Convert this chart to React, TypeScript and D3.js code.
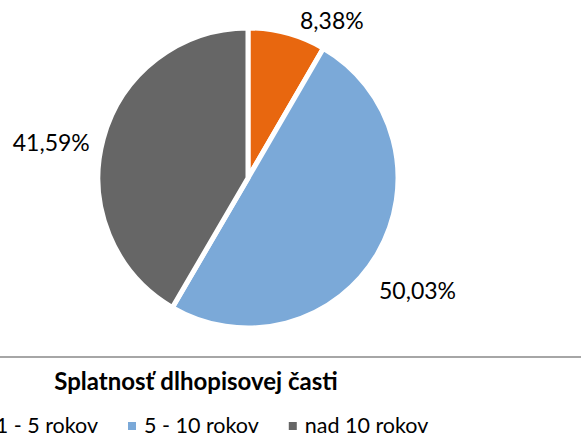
import * as d3 from "d3";
import React, { useEffect, useRef } from "react";

// Splatnosť dlhopisovej časti
const categories = ["1 - 5 rokov", "5 - 10 rokov", "nad 10 rokov"];
const values = [8.38, 50.03, 41.59];
const labels = ["8,38%", "50,03%", "41,59%"];
const colors = ["#E8670F", "#7BA9D8", "#666666"];
const title = "Splatnosť dlhopisovej časti";

// ručné posuny popiskov (Excel best-fit)
const labelNudge = [
  [37, 16],
  [14, 21],
  [-23, 11],
];

const App = () => {
  const svgRef = useRef<SVGSVGElement>(null);

  useEffect(() => {
    const width = 581;
    const height = 438;
    const cx = 248;
    const cy = 178;
    const r = 150;
    const font = "Lato, 'Open Sans', sans-serif";

    const svg = d3.select(svgRef.current).attr("width", width).attr("height", height);
    svg.selectAll("*").remove();

    const pie = d3
      .pie<number>()
      .sort(null)
      .value((d) => d);
    const arcs = pie(values);
    const arc = d3.arc<d3.PieArcDatum<number>>().innerRadius(0).outerRadius(r);

    const g = svg.append("g").attr("transform", `translate(${cx},${cy})`);

    g.selectAll("path")
      .data(arcs)
      .join("path")
      .attr("d", arc)
      .attr("fill", (d, i) => colors[i])
      .attr("stroke", "#fff")
      .attr("stroke-width", 5)
      .attr("stroke-linejoin", "miter");

    // popisky hodnôt
    const labelArc = d3.arc<d3.PieArcDatum<number>>().innerRadius(r + 30).outerRadius(r + 30);
    g.selectAll("text.lbl")
      .data(arcs)
      .join("text")
      .attr("class", "lbl")
      .attr("x", (d, i) => labelArc.centroid(d)[0] + labelNudge[i][0])
      .attr("y", (d, i) => labelArc.centroid(d)[1] + labelNudge[i][1])
      .attr("text-anchor", "middle")
      .attr("dominant-baseline", "central")
      .attr("font-family", font)
      .attr("font-size", 23)
      .attr("fill", "#000")
      .text((d, i) => labels[i]);

    // oddeľovacia čiara
    svg
      .append("line")
      .attr("x1", 0)
      .attr("x2", width)
      .attr("y1", 357)
      .attr("y2", 357)
      .attr("stroke", "#a6a6a6")
      .attr("stroke-width", 2);

    svg
      .append("text")
      .attr("x", 196)
      .attr("y", 390)
      .attr("text-anchor", "middle")
      .attr("font-family", font)
      .attr("font-weight", "bold")
      .attr("font-size", 24)
      .attr("fill", "#000")
      .text(title);

    // legenda
    const legend = svg.append("g").attr("transform", "translate(0,433)");
    const items = legend
      .selectAll("g")
      .data(categories)
      .join("g");
    items
      .append("rect")
      .attr("y", -11)
      .attr("width", 8)
      .attr("height", 8)
      .attr("fill", (d, i) => colors[i]);
    items
      .append("text")
      .attr("x", 16)
      .attr("font-family", font)
      .attr("font-size", 21.5)
      .attr("fill", "#000")
      .text((d) => d);

    const gap = 30;
    let x = 0;
    const xs: number[] = [];
    items.each(function () {
      const t = d3.select(this).select("text").node() as SVGTextElement;
      xs.push(x);
      x += 16 + t.getComputedTextLength() + gap;
    });
    // druhá položka začína pri x = 128
    const shift = 128 - xs[1];
    items.attr("transform", (d, i) => `translate(${xs[i] + shift},0)`);
  }, []);

  return (
    <svg
      ref={svgRef}
      style={{ display: "block", position: "absolute", left: 0, top: 0, background: "#fff" }}
    ></svg>
  );
};

export default App;
